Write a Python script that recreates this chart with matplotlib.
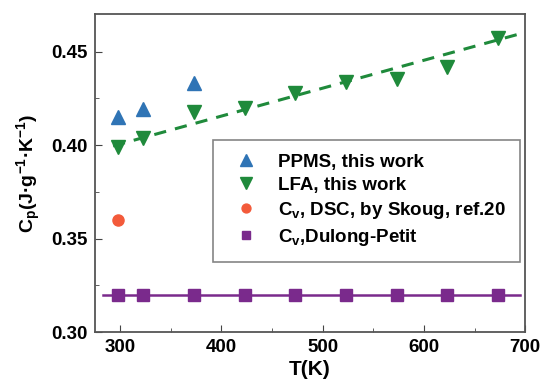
import matplotlib
matplotlib.use("Agg")
import matplotlib.pyplot as plt
from matplotlib.ticker import MultipleLocator, FormatStrFormatter

plt.rcParams['font.family'] = ['Liberation Sans', 'DejaVu Sans']
plt.rcParams['font.weight'] = 'bold'
plt.rcParams['mathtext.fontset'] = 'custom'
plt.rcParams['mathtext.rm'] = 'Liberation Sans:bold'
plt.rcParams['mathtext.bf'] = 'Liberation Sans:bold'
plt.rcParams['mathtext.it'] = 'Liberation Sans:bold'

# data
ppms_T = [298, 323, 373]
ppms_cp = [0.415, 0.419, 0.433]

lfa_T = [298, 323, 373, 423, 473, 523, 573, 623, 673]
lfa_cp = [0.399, 0.404, 0.4175, 0.420, 0.428, 0.4335, 0.4355, 0.4415, 0.457]

fit_T = [293, 695]
fit_cp = [0.3995, 0.4595]

dsc_T = [298]
dsc_cv = [0.360]

dp_T = [298, 323, 373, 423, 473, 523, 573, 623, 673]
dp_cv = [0.32] * len(dp_T)
dp_line_T = [283, 695]
dp_line_cv = [0.32, 0.32]

blue = '#2f74b5'
green = '#1f8a3b'
orange = '#f35a3a'
purple = '#7a2a8c'

fig = plt.figure(figsize=(5.42, 3.92), dpi=100)
ax = fig.add_axes([0.175, 0.153, 0.794, 0.811])

ax.plot(fit_T, fit_cp, '--', color=green, lw=2.2, dashes=(4, 3), zorder=2)
ax.plot(dp_line_T, dp_line_cv, '-', color=purple, lw=1.8, zorder=2)

ax.plot(ppms_T, ppms_cp, '^', color=blue, ms=10, ls='none', label='PPMS, this work', zorder=3)
ax.plot(lfa_T, lfa_cp, 'v', color=green, ms=10, ls='none', label='LFA, this work', zorder=3)
ax.plot(dsc_T, dsc_cv, 'o', color=orange, ms=8, ls='none',
        label=r'C$_\mathregular{v}$, DSC, by Skoug, ref.20', zorder=3)
ax.plot(dp_T, dp_cv, 's', color=purple, ms=8, ls='none',
        label=r'C$_\mathregular{v}$,Dulong-Petit', zorder=3)

ax.set_xlim(275, 700)
ax.set_ylim(0.30, 0.47)
ax.xaxis.set_major_locator(MultipleLocator(100))
ax.xaxis.set_minor_locator(MultipleLocator(50))
ax.yaxis.set_major_locator(MultipleLocator(0.05))
ax.yaxis.set_minor_locator(MultipleLocator(0.025))
ax.yaxis.set_major_formatter(FormatStrFormatter('%.2f'))
ax.tick_params(which='both', direction='in', top=False, right=False,
               labelsize=13.5, color='#444444', pad=5)
ax.tick_params(which='major', length=5)
ax.tick_params(which='minor', length=3)
for s in ax.spines.values():
    s.set_color('#555555')
    s.set_linewidth(1.3)

ax.set_xlabel('T(K)', fontsize=15, fontweight='bold', labelpad=3)
ax.set_ylabel(r'C$_\mathregular{p}$(J·g$^\mathregular{-1}$·K$^\mathregular{-1}$)',
              fontsize=14, fontweight='bold', labelpad=6)

leg = ax.legend(loc='lower right', bbox_to_anchor=(0.988, 0.22), borderaxespad=0,
                fontsize=13.5, markerscale=0.8, frameon=True, fancybox=False,
                edgecolor='#666666', handlelength=2.0, handletextpad=0.7,
                borderpad=0.75, labelspacing=0.32)
leg.get_frame().set_linewidth(1.2)

fig.savefig('out.png', dpi=100)
